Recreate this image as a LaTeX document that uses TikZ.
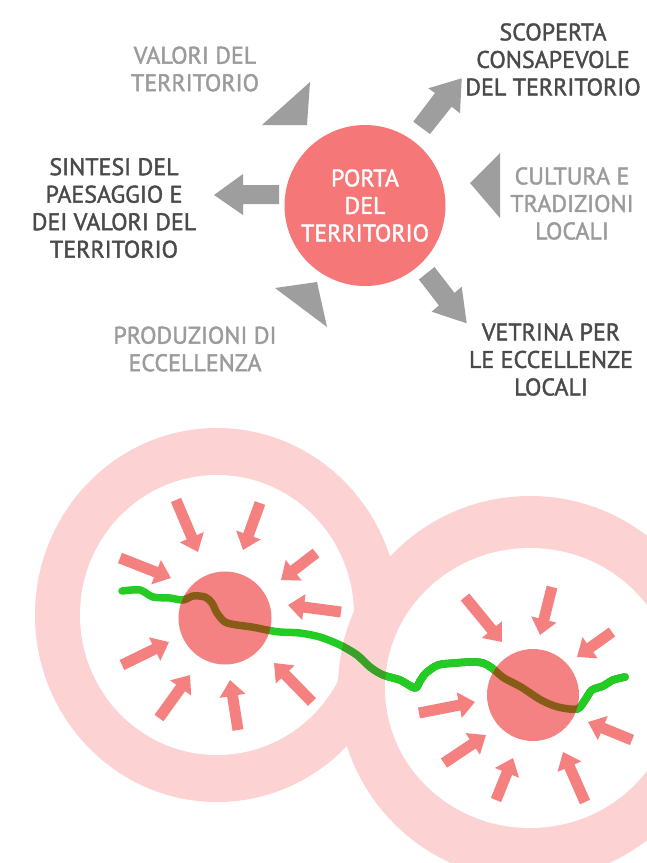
\documentclass[tikz,border=0pt]{standalone}
\usepackage{fontspec}
\setmainfont{PT Sans}[UprightFeatures={FakeBold=1.6}]
\usetikzlibrary{arrows.meta}
\definecolor{shapegray}{RGB}{158,158,158}
\definecolor{darktext}{RGB}{74,74,74}
\definecolor{lighttext}{RGB}{155,155,155}
\definecolor{portared}{RGB}{246,119,119}
\definecolor{ringpink}{RGB}{253,210,210}
\definecolor{diskpink}{RGB}{244,130,130}
\definecolor{arrowpink}{RGB}{244,128,128}
\definecolor{linegreen}{RGB}{34,204,34}
\definecolor{linedark}{RGB}{58,160,40}
\definecolor{linebrown}{RGB}{135,92,22}
\begin{document}
\begin{tikzpicture}[x=1pt,y=-1pt,
  lbl/.style={inner sep=0pt, align=center, font=\fontsize{24}{27.5}\selectfont},
  darklbl/.style={lbl, text=darktext},
  lightlbl/.style={lbl, text=lighttext},
  grayshape/.style={fill=shapegray, draw=none},
  pinkarrow/.style={draw=arrowpink, line width=11pt, -{Triangle[length=16pt,width=25pt]}},
  greenstroke/.style={line width=7.5pt, line cap=round, line join=round}]
\useasboundingbox (0,0) rectangle (647,863);
\fill[white] (0,0) rectangle (647,863);

% ---------- top diagram ----------
\node[circle, fill=portared, minimum size=161pt, lbl, text=white] (porta) at (365,205.5) {PORTA\\DEL\\TERRITORIO};

\node[darklbl] (scoperta) at (553,59.5) {SCOPERTA\\CONSAPEVOLE\\DEL TERRITORIO};
\node[darklbl] (sintesi) at (114,208) {SINTESI DEL\\PAESAGGIO E\\DEI VALORI DEL\\TERRITORIO};
\node[darklbl] (vetrina) at (551,359.5) {VETRINA PER\\LE ECCELLENZE\\LOCALI};
\node[lightlbl] (valori) at (195,69) {VALORI DEL\\TERRITORIO};
\node[lightlbl] (cultura) at (572,203.5) {CULTURA E\\TRADIZIONI\\LOCALI};
\node[lightlbl] (produzioni) at (195,349) {PRODUZIONI DI\\ECCELLENZA};

% incoming triangles
\fill[grayshape] (310,82) -- (262,125) -- (307,125) -- cycle;
\fill[grayshape] (275,288) -- (317,282) -- (327,327) -- cycle;
\fill[grayshape] (470,183) -- (500,153) -- (500,218) -- cycle;
% outgoing arrows
\fill[grayshape] (214,195) -- (243,174) -- (243,185) -- (279,185) -- (279,204) -- (243,204) -- (243,215) -- cycle;
\fill[grayshape] (413.3,121.7) -- (435,93) -- (428.3,88.3) -- (461.7,78.3) -- (460,113.3) -- (451.7,106.7) -- (430,134) -- cycle;
\fill[grayshape] (434.5,267) -- (454.5,292.9) -- (461.7,286.7) -- (466.7,323.3) -- (431.7,311.7) -- (438.9,305.4) -- (418.9,279.5) -- cycle;

% ---------- bottom diagram ----------
\fill[ringpink] (217,615) ellipse [x radius=182pt, y radius=187pt];
\fill[white] (217,615) ellipse [x radius=137pt, y radius=140pt];
\fill[ringpink] (530,688) ellipse [x radius=192pt, y radius=192pt];
\fill[white] (530,688) ellipse [x radius=145pt, y radius=140pt];

% arrows, left ring
\draw[pinkarrow] (176,500) -- (198,552);
\draw[pinkarrow] (260,503) -- (243,550);
\draw[pinkarrow] (120,558) -- (171,578);
\draw[pinkarrow] (316,553) -- (281,580);
\draw[pinkarrow] (341,612) -- (288,605);
\draw[pinkarrow] (122,665) -- (169,642);
\draw[pinkarrow] (159,718) -- (190,675);
\draw[pinkarrow] (238,730) -- (230,680);
\draw[pinkarrow] (312,702) -- (274,663);
% arrows, right ring
\draw[pinkarrow] (465,597) -- (502,642);
\draw[pinkarrow] (552,587) -- (540,635);
\draw[pinkarrow] (612,632) -- (577,657);
\draw[pinkarrow] (419,713) -- (475,702);
\draw[pinkarrow] (632,740) -- (588,722);
\draw[pinkarrow] (444,763) -- (486,735);
\draw[pinkarrow] (496,800) -- (513,758);
\draw[pinkarrow] (585,802) -- (563,752);

% green route
\path[save path=\greenroute] plot[smooth, tension=0.5] coordinates {
 (122,591) (140,590) (153,597) (170,598) (183,600) (193,596) (205,597) (212,603)
 (217,613) (225,622) (237,625) (252,627) (267,630) (280,632) (300,633) (320,637)
 (340,645) (357,655) (370,667) (383,675) (400,680) (415,688) (420,681) (426,673)
 (438,665) (455,663) (471,662) (483,663) (492,668) (504,678) (521,687) (541,700)
 (558,707) (577,709) (585,700) (592,690) (603,686) (613,680) (625,677)};
\path[use path=\greenroute, draw=linegreen, greenstroke];
\begin{scope}
  \clip (530,688) ellipse [x radius=192pt, y radius=192pt];
  \path[use path=\greenroute, draw=linedark, greenstroke];
\end{scope}
\begin{scope}
  \clip (530,688) ellipse [x radius=145pt, y radius=140pt];
  \path[use path=\greenroute, draw=linegreen, greenstroke];
\end{scope}

% cores
\fill[diskpink] (225,618) circle [radius=46.5pt];
\fill[diskpink] (533,695) circle [radius=46pt];
\begin{scope}
  \clip (225,618) circle [radius=46.5pt];
  \path[use path=\greenroute, draw=linebrown, greenstroke];
\end{scope}
\begin{scope}
  \clip (533,695) circle [radius=46pt];
  \path[use path=\greenroute, draw=linebrown, greenstroke];
\end{scope}
\end{tikzpicture}
\end{document}
